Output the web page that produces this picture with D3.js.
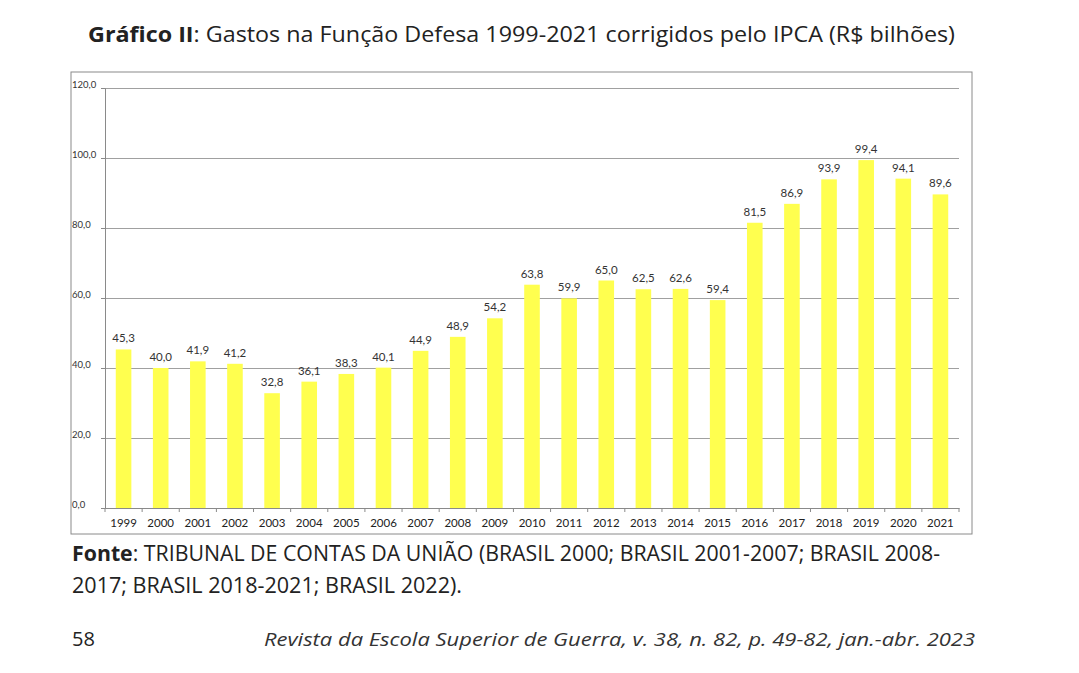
<!DOCTYPE html>
<html>
<head>
<meta charset="utf-8">
<script src="https://cdn.jsdelivr.net/npm/d3@7"></script>
<style>
  body { margin: 0; background: #fff; }
  svg { display: block; }
</style>
</head>
<body>
<div id="chart"></div>
<script>
// data
const years = ["1999","2000","2001","2002","2003","2004","2005","2006","2007","2008","2009",
  "2010","2011","2012","2013","2014","2015","2016","2017","2018","2019","2020","2021"];
const gastos = [45.3, 40.0, 41.9, 41.2, 32.8, 36.1, 38.3, 40.1, 44.9, 48.9, 54.2,
  63.8, 59.9, 65.0, 62.5, 62.6, 59.4, 81.5, 86.9, 93.9, 99.4, 94.1, 89.6];
const yTicks = [0, 20, 40, 60, 80, 100, 120];

const W = 1079, H = 673;
const plot = { left: 105, right: 959, top: 88, bottom: 508 };
const fmt = v => v.toFixed(1).replace(".", ",");

const svg = d3.select("#chart").append("svg")
  .attr("width", W)
  .attr("height", H);

// title (stretched to the width it has in the page)
const title = svg.append("text")
  .attr("x", 88)
  .attr("y", 42)
  .attr("font-family", "Open Sans")
  .attr("font-size", 21)
  .attr("fill", "#222")
  .attr("textLength", 867)
  .attr("lengthAdjust", "spacingAndGlyphs");
title.append("tspan").attr("font-weight", "bold").text("Gráfico II");
title.append("tspan").text(": Gastos na Função Defesa 1999-2021 corrigidos pelo IPCA (R$ bilhões)");

// chart frame
svg.append("rect")
  .attr("x", 71)
  .attr("y", 72)
  .attr("width", 901)
  .attr("height", 462)
  .attr("fill", "#fff")
  .attr("stroke", "#8a8a8a")
  .attr("stroke-width", 1);

// scales
const x = d3.scaleBand()
  .domain(years)
  .range([plot.left, plot.right])
  .paddingInner(0.58)
  .paddingOuter(0.29);

const y = d3.scaleLinear()
  .domain([0, 120])
  .range([plot.bottom, plot.top]);

// gridlines
svg.append("g")
  .attr("transform", `translate(${plot.left},0)`)
  .call(d3.axisLeft(y).tickValues(yTicks).tickSize(-(plot.right - plot.left)).tickFormat(""))
  .call(g => g.select(".domain").remove())
  .call(g => g.selectAll("line").attr("stroke", "#a0a0a0").attr("stroke-width", 1));

// bars
svg.selectAll(".bar")
  .data(gastos)
  .enter()
  .append("rect")
  .attr("class", "bar")
  .attr("x", (d, i) => x(years[i]))
  .attr("y", d => y(d))
  .attr("width", x.bandwidth())
  .attr("height", d => y(0) - y(d))
  .attr("fill", "#ffff4f");

// value labels
svg.selectAll(".lbl")
  .data(gastos)
  .enter()
  .append("text")
  .attr("class", "lbl")
  .attr("x", (d, i) => x(years[i]) + x.bandwidth() / 2)
  .attr("y", d => y(d) - 7)
  .attr("text-anchor", "middle")
  .attr("font-family", "Lato")
  .attr("font-size", 11.5)
  .attr("fill", "#333")
  .text(d => fmt(d));

// y axis
svg.append("g")
  .attr("transform", `translate(${plot.left},0)`)
  .call(d3.axisLeft(y).tickValues(yTicks).tickSize(4).tickPadding(5).tickFormat(fmt))
  .call(g => g.select(".domain").attr("stroke", "#8a8a8a"))
  .call(g => g.selectAll("line").attr("stroke", "#8a8a8a"))
  .call(g => g.selectAll("text")
    .attr("font-family", "Lato")
    .attr("font-size", 9.5)
    .attr("fill", "#333")
    .attr("x", -33)
    .attr("dy", "-0.1em")
    .attr("text-anchor", "start"));

// x axis
const xTickScale = d3.scaleBand().domain(years).range([plot.left, plot.right]);
svg.append("g")
  .attr("transform", `translate(0,${plot.bottom})`)
  .call(d3.axisBottom(x).tickSize(0).tickPadding(11))
  .call(g => g.select(".domain").attr("stroke", "#8a8a8a"))
  .call(g => g.selectAll("text")
    .attr("font-family", "Lato")
    .attr("font-size", 11.5)
    .attr("fill", "#222"));

// small tick marks between categories
svg.append("g")
  .selectAll("line")
  .data(years.concat(["end"]))
  .enter()
  .append("line")
  .attr("x1", (d, i) => i < years.length ? xTickScale(d) : plot.right)
  .attr("x2", (d, i) => i < years.length ? xTickScale(d) : plot.right)
  .attr("y1", plot.bottom)
  .attr("y2", plot.bottom + 4)
  .attr("stroke", "#8a8a8a");

// source
const src = svg.append("g")
  .attr("font-family", "Open Sans")
  .attr("font-size", 21)
  .attr("fill", "#222");
const l1 = src.append("text").attr("x", 72).attr("y", 561)
  .attr("textLength", 868)
  .attr("lengthAdjust", "spacingAndGlyphs");
l1.append("tspan").attr("font-weight", "bold").text("Fonte");
l1.append("tspan").text(": TRIBUNAL DE CONTAS DA UNIÃO (BRASIL 2000; BRASIL 2001-2007; BRASIL 2008-");
src.append("text").attr("x", 72).attr("y", 593)
  .attr("textLength", 390)
  .attr("lengthAdjust", "spacingAndGlyphs")
  .text("2017; BRASIL 2018-2021; BRASIL 2022).");

// page footer
svg.append("text")
  .attr("x", 72)
  .attr("y", 646)
  .attr("font-family", "Open Sans")
  .attr("font-size", 20)
  .attr("fill", "#222")
  .text("58");
svg.append("text")
  .attr("x", 264)
  .attr("y", 646)
  .attr("font-family", "Open Sans")
  .attr("font-style", "italic")
  .attr("font-size", 18.5)
  .attr("fill", "#333")
  .attr("textLength", 711)
  .attr("lengthAdjust", "spacingAndGlyphs")
  .text("Revista da Escola Superior de Guerra, v. 38, n. 82, p. 49-82, jan.-abr. 2023");
</script>
</body>
</html>
